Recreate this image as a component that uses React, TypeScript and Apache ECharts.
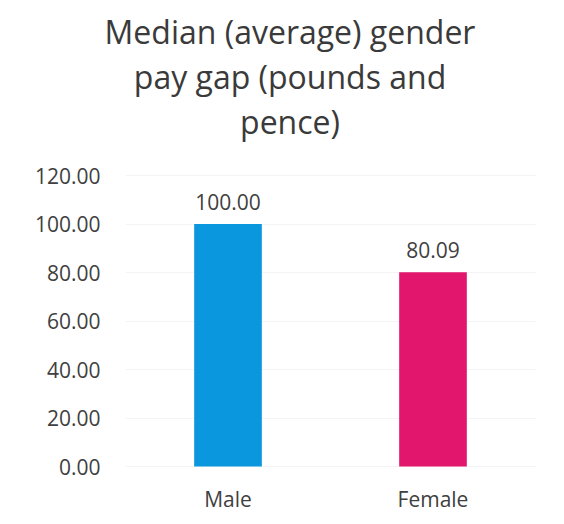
import React, { useEffect, useRef } from "react";
import * as echarts from "echarts";

const titleText = "Median (average) gender\npay gap (pounds and\npence)";
const categories = ["Male", "Female"];
const values = [100.0, 80.09];
const barColors = ["#0A97DE", "#E2166D"];

export default function App() {
  const ref = useRef<HTMLDivElement>(null);
  useEffect(() => {
    const chart = echarts.init(ref.current!, null, { renderer: "svg" });
    const font = "'Open Sans', sans-serif";
    chart.setOption({
      animation: false,
      backgroundColor: "#ffffff",
      title: {
        text: titleText,
        left: 282,
        textAlign: "center",
        top: 1,
        padding: 0,
        textStyle: {
          fontFamily: font,
          fontSize: 32,
          fontWeight: "normal",
          color: "#3a3a3a",
          lineHeight: 45,
        },
      },
      grid: { left: 117.5, right: 20.5, top: 167.5, bottom: 49.5 },
      xAxis: {
        type: "category",
        data: categories,
        axisLine: { show: false },
        axisTick: { show: false },
        axisLabel: { fontFamily: font, fontSize: 21, color: "#404040", margin: 22 },
      },
      yAxis: {
        type: "value",
        min: 0,
        max: 120,
        interval: 20,
        axisLabel: {
          fontFamily: font,
          fontSize: 21,
          color: "#404040",
          margin: 25,
          formatter: (v: number) => v.toFixed(2),
        },
        splitLine: { lineStyle: { color: "#f4f4f4" } },
      },
      series: [
        {
          type: "bar",
          barWidth: "33%",
          data: values.map((v, i) => ({ value: v, itemStyle: { color: barColors[i] } })),
          label: {
            show: true,
            position: "top",
            distance: 12,
            fontFamily: font,
            fontSize: 21,
            color: "#404040",
            formatter: (p: any) => Number(p.value).toFixed(2),
          },
        },
      ],
    });
    return () => chart.dispose();
  }, []);
  return <div ref={ref} style={{ width: 548, height: 508 }} />;
}
